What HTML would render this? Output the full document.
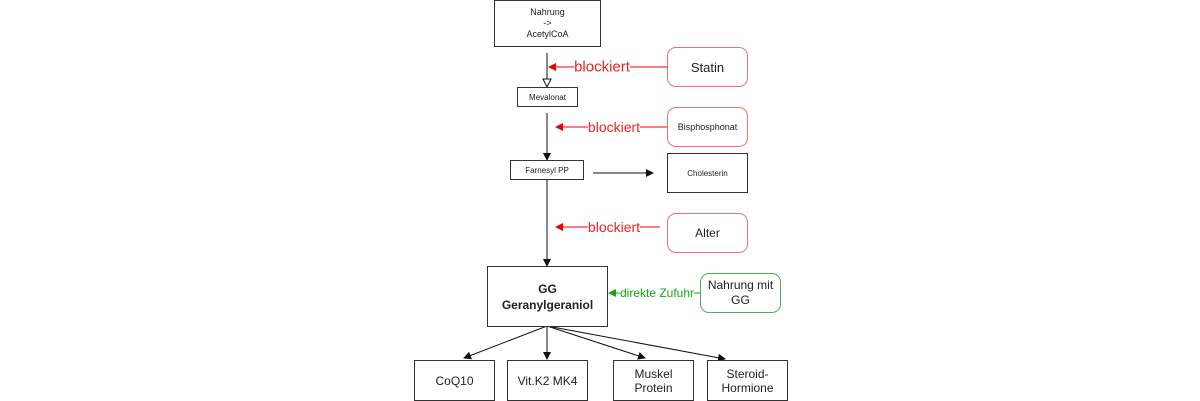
<html><head><style>
body{margin:0;width:1200px;height:400px;background:#fff;position:relative;font-family:"Liberation Sans",sans-serif;overflow:hidden}
.b{position:absolute;box-sizing:border-box;border:1px solid #333;display:flex;align-items:center;justify-content:center;text-align:center;color:#222;background:#fff}
.r{border:1px solid #f07070;border-radius:9px}
.g{border:1px solid #4caf50;border-radius:9px}
.l{position:absolute;background:#fff;white-space:nowrap;transform:translate(-50%,-50%)}
</style></head><body>
<svg width="1200" height="400" style="position:absolute;left:0;top:0">
<defs>
<marker id="k" markerWidth="8" markerHeight="8" refX="7" refY="4" orient="auto" markerUnits="userSpaceOnUse"><path d="M0,0L8,4L0,8z" fill="#111"/></marker>
<marker id="h" markerWidth="10" markerHeight="10" refX="9" refY="5" orient="auto" markerUnits="userSpaceOnUse"><path d="M1,1L9,5L1,9z" fill="#fff" stroke="#111"/></marker>
<marker id="rd" markerWidth="8" markerHeight="8" refX="7" refY="4" orient="auto" markerUnits="userSpaceOnUse"><path d="M0,0L8,4L0,8z" fill="#e00"/></marker>
<marker id="gr" markerWidth="8" markerHeight="8" refX="7" refY="4" orient="auto" markerUnits="userSpaceOnUse"><path d="M0,0L8,4L0,8z" fill="#1a1"/></marker>
</defs>
<g stroke="#111" fill="none">
<line x1="547" y1="53" x2="547" y2="87" marker-end="url(#h)"/>
<line x1="547" y1="113" x2="547" y2="160" marker-end="url(#k)"/>
<line x1="547" y1="180" x2="547" y2="266" marker-end="url(#k)"/>
<line x1="593" y1="173" x2="653" y2="173" marker-end="url(#k)"/>
<line x1="547" y1="326" x2="547" y2="359" marker-end="url(#k)"/>
<line x1="547" y1="326" x2="464" y2="358" marker-end="url(#k)"/>
<line x1="547" y1="326" x2="645" y2="358" marker-end="url(#k)"/>
<line x1="547" y1="326" x2="725" y2="359" marker-end="url(#k)"/>
</g>
<g stroke="#e00">
<line x1="667" y1="67" x2="549" y2="67" marker-end="url(#rd)"/>
<line x1="667" y1="127" x2="556" y2="127" marker-end="url(#rd)"/>
<line x1="660" y1="227" x2="556" y2="227" marker-end="url(#rd)"/>
</g>
<line x1="700" y1="293" x2="609" y2="293" stroke="#1a1" marker-end="url(#gr)"/>
</svg>
<div class="l" style="left:602px;top:67px;color:#e22;font-size:15px">blockiert</div>
<div class="l" style="left:614px;top:127px;color:#e22;font-size:14px">blockiert</div>
<div class="l" style="left:614px;top:227px;color:#e22;font-size:14px">blockiert</div>
<div class="l" style="left:657px;top:293px;color:#1a1;font-size:12px">direkte Zufuhr</div>
<div class="b" style="left:494px;top:0;width:107px;height:47px;font-size:9px;line-height:11px">Nahrung<br>-&gt;<br>AcetylCoA</div>
<div class="b r" style="left:667px;top:47px;width:81px;height:40px;font-size:13px">Statin</div>
<div class="b" style="left:517px;top:87px;width:61px;height:20px;font-size:8px">Mevalonat</div>
<div class="b r" style="left:667px;top:107px;width:81px;height:40px;font-size:9px">Bisphosphonat</div>
<div class="b" style="left:510px;top:160px;width:74px;height:20px;font-size:8px">Farnesyl PP</div>
<div class="b" style="left:667px;top:153px;width:81px;height:40px;font-size:8px">Cholesterin</div>
<div class="b r" style="left:667px;top:213px;width:81px;height:40px;font-size:12px">Alter</div>
<div class="b" style="left:487px;top:266px;width:121px;height:61px;font-size:12px;font-weight:bold;line-height:16px">GG<br>Geranylgeraniol</div>
<div class="b g" style="left:700px;top:273px;width:81px;height:40px;font-size:12px;line-height:15px">Nahrung mit<br>GG</div>
<div class="b" style="left:414px;top:360px;width:81px;height:41px;font-size:12px">CoQ10</div>
<div class="b" style="left:507px;top:360px;width:81px;height:41px;font-size:12px">Vit.K2 MK4</div>
<div class="b" style="left:613px;top:360px;width:81px;height:41px;font-size:12px;line-height:14px">Muskel<br>Protein</div>
<div class="b" style="left:707px;top:360px;width:81px;height:41px;font-size:12px;line-height:14px">Steroid-<br>Hormione</div>
</body></html>
